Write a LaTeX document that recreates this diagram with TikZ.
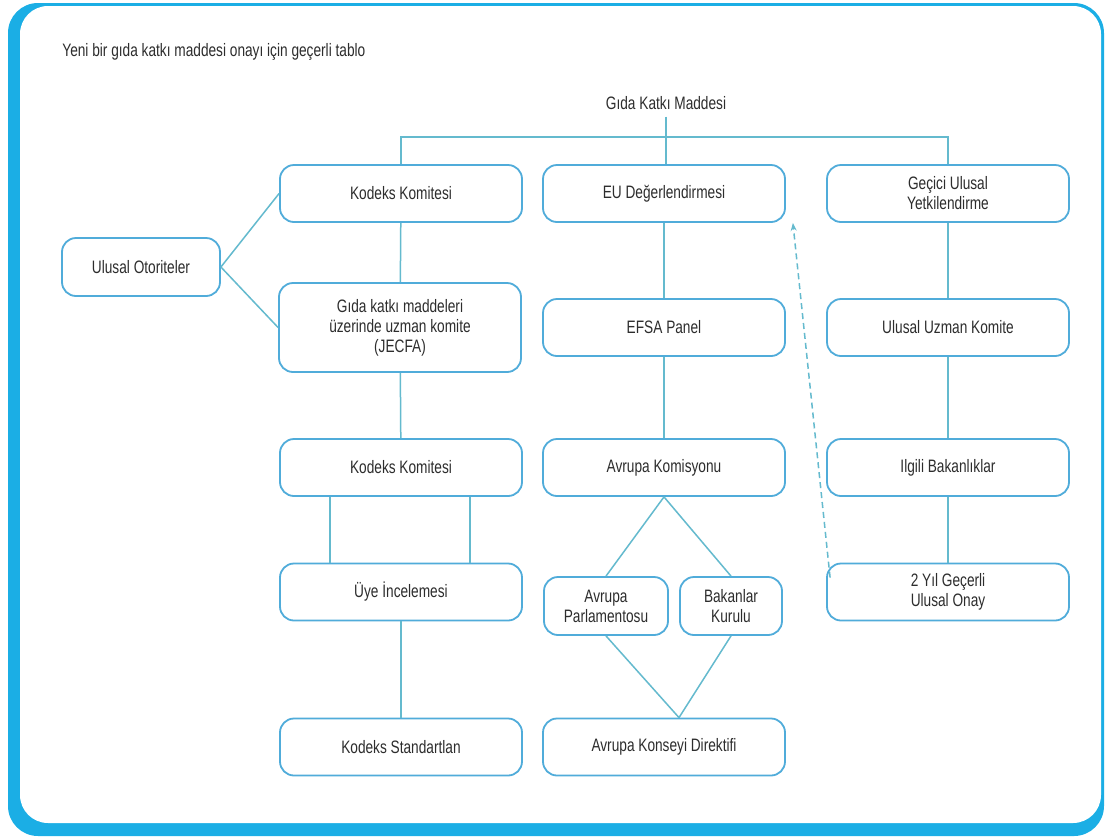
\documentclass[tikz,border=0pt]{standalone}
\usepackage{fontspec}
\setmainfont{Liberation Sans}[FakeStretch=0.76]
\usetikzlibrary{arrows.meta}
\definecolor{framecyan}{RGB}{27,174,229}
\definecolor{boxblue}{RGB}{80,172,218}
\definecolor{linkblue}{RGB}{100,186,206}
\definecolor{textgray}{RGB}{45,45,45}
\begin{document}
\begin{tikzpicture}[x=0.5pt, y=-0.5pt,
  box/.style={draw=boxblue, fill=white, line width=0.9pt, rounded corners=7pt, minimum width=121pt, minimum height=28.5pt, align=center, text=textgray, font=\fontsize{9}{10}\selectfont},
  label/.style={text=textgray, font=\fontsize{9}{10}\selectfont},
  link/.style={draw=linkblue, line width=0.75pt}]
\useasboundingbox (0,0) rectangle (1105,837);
% frame
\fill[framecyan, rounded corners=15pt] (8,3) rectangle (1104,836);
\fill[white, rounded corners=14pt] (20,6) rectangle (1101,823);

\node (baslik) at (62,52) [label, anchor=west, inner sep=0pt] {Yeni bir gıda katkı maddesi onayı için geçerli tablo};
\node (gkm) at (666,103) [label] {Gıda Katkı Maddesi};

% codex column
\node (kk1) at (401,193.5) [box] {Kodeks Komitesi};
\node (jecfa) at (400,327.5) [box, minimum height=44.5pt] {Gıda katkı maddeleri\\üzerinde uzman komite\\(JECFA)};
\node (kk2) at (401,467.5) [box] {Kodeks Komitesi};
\node (uye) at (401,592) [box] {Üye İncelemesi};
\node (kstd) at (401,747) [box] {Kodeks Standartlan};
\node (otor) at (141,267) [box, minimum width=79pt, minimum height=29pt] {Ulusal Otoriteler};

% EU column
\node (eu) at (664,193.5) [box] {EU Değerlendirmesi};
\node (efsa) at (664,327.5) [box] {EFSA Panel};
\node (ak) at (664,467.5) [box] {Avrupa Komisyonu};
\node (ap) at (606,606) [box, minimum width=62pt, minimum height=29pt] {Avrupa\\Parlamentosu};
\node (bk) at (731,606) [box, minimum width=51pt, minimum height=29pt] {Bakanlar\\Kurulu};
\node (akd) at (664,747) [box] {Avrupa Konseyi Direktifi};

% national column
\node (gecici) at (948,193.5) [box] {Geçici Ulusal\\Yetkilendirme};
\node (uzman) at (948,327.5) [box] {Ulusal Uzman Komite};
\node (bakan) at (948,467.5) [box] {Ilgili Bakanlıklar};
\node (onay) at (948,592) [box] {2 Yıl Geçerli\\Ulusal Onay};

\coordinate (bus) at (666,137);
\draw[link] (gkm) -- (gkm |- eu.north);
\draw[link] (kk1) -- (kk1 |- bus) -- (gecici |- bus) -- (gecici);

\draw[link] (otor.east) -- (kk1.west);
\draw[link] (otor.east) -- (jecfa.west);
\draw[link] (kk1) -- (jecfa);
\draw[link] (jecfa) -- (kk2);
\draw[link] ([xshift=-35.5pt]kk2.south) -- ([xshift=-35.5pt]uye.north);
\draw[link] ([xshift=34.5pt]kk2.south) -- ([xshift=34.5pt]uye.north);
\draw[link] (uye) -- (kstd);

\draw[link] (eu) -- (efsa);
\draw[link] (efsa) -- (ak);
\draw[link] (ak.south) -- (ap.north);
\draw[link] (ak.south) -- (bk.north);
\draw[link] (ap.south) -- ([xshift=7.5pt]akd.north);
\draw[link] (bk.south) -- ([xshift=7.5pt]akd.north);

\draw[link] (gecici) -- (uzman);
\draw[link] (uzman) -- (bakan);
\draw[link] (bakan) -- (onay);

\draw[link, dash pattern=on 3pt off 2pt, -{Stealth[length=4pt, width=3pt, fill=framecyan]}] ([xshift=2pt, yshift=-7.5pt]onay.north west) -- ([xshift=3.5pt]eu.south east);
\end{tikzpicture}
\end{document}
